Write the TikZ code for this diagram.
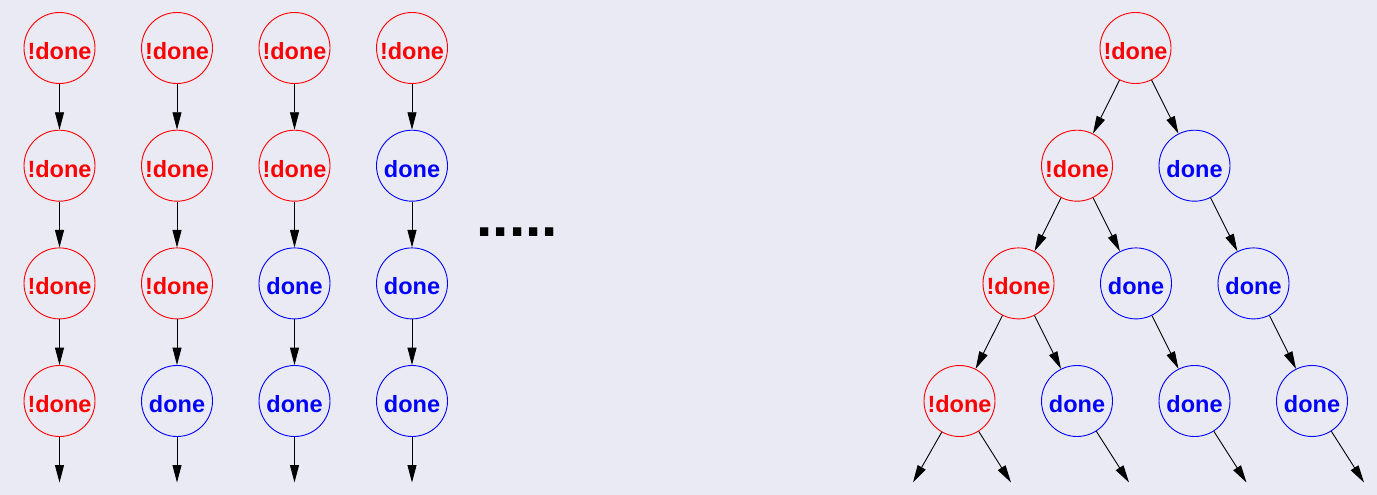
\documentclass[tikz,border=0pt]{standalone}
\usepackage{fontspec}
\setmainfont{Liberation Sans}
\usetikzlibrary{arrows.meta}
\definecolor{bgc}{RGB}{234,234,245}
\tikzset{
  basenode/.style={circle, minimum size=71pt, inner sep=0pt, line width=0.9pt,
    font=\bfseries\fontsize{23.5}{23.5}\selectfont, text height=22.6pt, text depth=0pt},
  nd/.style={basenode, draw=red, text=red},
  dn/.style={basenode, draw=blue, text=blue},
  arr/.style={-{Triangle[length=17.5pt,width=9pt]}, line width=0.9pt, black},
}
\begin{document}
\begin{tikzpicture}[x=1pt,y=-1pt]
\fill[bgc] (0,0) rectangle (1377,495);
\useasboundingbox (0,0) rectangle (1377,495);
% left columns
\def\ya{48}\def\yb{165.7}\def\yc{283.4}\def\yd{401}
% column 1
\node[nd] (a1) at (59.5,\ya) {!done};
\node[nd] (a2) at (59.5,\yb) {!done};
\node[nd] (a3) at (59.5,\yc) {!done};
\node[nd] (a4) at (59.5,\yd) {!done};
\coordinate (a5) at (59.5,482.5);
% column 2
\node[nd] (b1) at (177,\ya) {!done};
\node[nd] (b2) at (177,\yb) {!done};
\node[nd] (b3) at (177,\yc) {!done};
\node[dn] (b4) at (177,\yd) {done};
\coordinate (b5) at (177,482.5);
% column 3
\node[nd] (c1) at (294.5,\ya) {!done};
\node[nd] (c2) at (294.5,\yb) {!done};
\node[dn] (c3) at (294.5,\yc) {done};
\node[dn] (c4) at (294.5,\yd) {done};
\coordinate (c5) at (294.5,482.5);
% column 4
\node[nd] (d1) at (412,\ya) {!done};
\node[dn] (d2) at (412,\yb) {done};
\node[dn] (d3) at (412,\yc) {done};
\node[dn] (d4) at (412,\yd) {done};
\coordinate (d5) at (412,482.5);
\foreach \c in {a,b,c,d}{
  \draw[arr] (\c1) -- (\c2);
  \draw[arr] (\c2) -- (\c3);
  \draw[arr] (\c3) -- (\c4);
  \draw[arr] (\c4) -- (\c5);
}
% dots
\node[anchor=base west, inner sep=0pt, font=\bfseries\fontsize{58.6}{58.6}\selectfont] (dots) at (476.5,236) {.....};
% tree
\node[nd] (r) at (1135.5,\ya) {!done};
\node[nd] (l21) at (1077,\yb) {!done};
\node[dn] (l22) at (1194.5,\yb) {done};
\node[nd] (l31) at (1018.5,\yc) {!done};
\node[dn] (l32) at (1136,\yc) {done};
\node[dn] (l33) at (1253.5,\yc) {done};
\node[nd] (l41) at (959.5,\yd) {!done};
\node[dn] (l42) at (1077,\yd) {done};
\node[dn] (l43) at (1194.5,\yd) {done};
\node[dn] (l44) at (1312,\yd) {done};
\coordinate (e1) at (913,482.5);
\coordinate (e2) at (1011,482.5);
\coordinate (e3) at (1129,482.5);
\coordinate (e4) at (1246.5,482.5);
\coordinate (e5) at (1364,482.5);
\draw[arr] (r) -- (l21);
\draw[arr] (r) -- (l22);
\draw[arr] (l21) -- (l31);
\draw[arr] (l21) -- (l32);
\draw[arr] (l22) -- (l33);
\draw[arr] (l31) -- (l41);
\draw[arr] (l31) -- (l42);
\draw[arr] (l32) -- (l43);
\draw[arr] (l33) -- (l44);
\draw[arr] (l41) -- (e1);
\draw[arr] (l41) -- (e2);
\draw[arr] (l42) -- (e3);
\draw[arr] (l43) -- (e4);
\draw[arr] (l44) -- (e5);
\end{tikzpicture}
\end{document}
